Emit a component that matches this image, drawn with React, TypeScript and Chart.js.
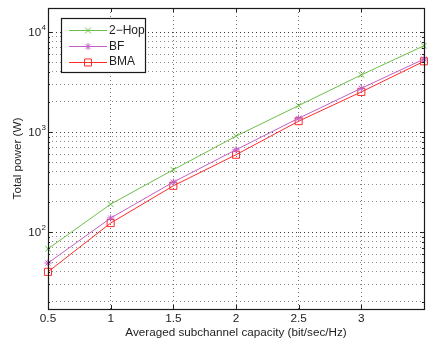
import React, { useEffect, useRef } from "react";
import { Chart, registerables } from "chart.js";

Chart.register(...registerables);

const capacities = [0.5, 1, 1.5, 2, 2.5, 3, 3.5];
const hop2Power = [68, 190, 420, 910, 1840, 3730, 7300];
const bfPower = [49, 138, 316, 665, 1375, 2740, 5370];
const bmaPower = [40, 123, 290, 593, 1285, 2520, 5100];
const xTickValues = [0.5, 1, 1.5, 2, 2.5, 3, 3.5];
const xTickLabels = ["0.5", "1", "1.5", "2", "2.5", "3", ""];
const yMajorExps = [2, 3, 4];
const seriesNames = ["2\u2212Hop", "BF", "BMA"];
const seriesColors = ["#6cbf48", "#c45ec4", "#ff2a2a"];

const FONT = "Liberation Sans, Arial, Helvetica, sans-serif";
const TEXT = "#1e1e1e";

function yTickValues(): number[] {
  const out: number[] = [];
  for (let e = 1; e <= 4; e++) {
    const base = Math.pow(10, e);
    for (let m = e === 1 ? 2 : 1; m <= 9; m++) {
      const v = m * base;
      if (v <= 17400) out.push(v);
    }
  }
  return out;
}

function isMajor(v: number) {
  const l = Math.log10(v);
  return Math.abs(l - Math.round(l)) < 1e-9;
}

function drawMarker(ctx: CanvasRenderingContext2D, style: string, x: number, y: number, color: string) {
  ctx.save();
  ctx.strokeStyle = color;
  ctx.lineWidth = 1;
  ctx.beginPath();
  if (style === "crossRot") {
    const r = 2.8;
    ctx.moveTo(x - r, y - r); ctx.lineTo(x + r, y + r);
    ctx.moveTo(x - r, y + r); ctx.lineTo(x + r, y - r);
  } else if (style === "star") {
    const r = 3.5;
    const d = r * Math.SQRT1_2;
    ctx.moveTo(x - r, y); ctx.lineTo(x + r, y);
    ctx.moveTo(x, y - r); ctx.lineTo(x, y + r);
    ctx.moveTo(x - d, y - d); ctx.lineTo(x + d, y + d);
    ctx.moveTo(x - d, y + d); ctx.lineTo(x + d, y - d);
  } else {
    const s = 3.5;
    ctx.rect(x - s, y - s, 2 * s, 2 * s);
  }
  ctx.stroke();
  ctx.restore();
}

const pointStyles = ["crossRot", "star", "rect"];

const decorPlugin = {
  id: "matlabDecor",
  afterDatasetsDraw(chart: any) {
    const ctx: CanvasRenderingContext2D = chart.ctx;
    const area = chart.chartArea;
    const xs = chart.scales.x;
    const ys = chart.scales.y;
    ctx.save();
    // inner tick marks
    ctx.strokeStyle = "#222";
    ctx.lineWidth = 1;
    ctx.beginPath();
    for (const v of xTickValues) {
      const px = Math.round(xs.getPixelForValue(v)) + 0.5;
      ctx.moveTo(px, area.top); ctx.lineTo(px, area.top + 4);
      ctx.moveTo(px, area.bottom); ctx.lineTo(px, area.bottom - 4);
    }
    for (const v of yTickValues()) {
      const py = Math.round(ys.getPixelForValue(v)) + 0.5;
      const len = isMajor(v) ? 4 : 2;
      ctx.moveTo(area.left, py); ctx.lineTo(area.left + len, py);
      ctx.moveTo(area.right, py); ctx.lineTo(area.right - len, py);
    }
    ctx.stroke();
    // box
    ctx.strokeStyle = "#1a1a1a";
    ctx.lineWidth = 1.2;
    ctx.strokeRect(Math.round(area.left) + 0.5, Math.round(area.top) + 0.5,
      Math.round(area.right - area.left), Math.round(area.bottom - area.top));
    // y labels 10^n
    ctx.fillStyle = TEXT;
    for (const e of yMajorExps) {
      const py = ys.getPixelForValue(Math.pow(10, e));
      ctx.font = `8px ${FONT}`;
      const sup = String(e);
      const supW = ctx.measureText(sup).width;
      const right = area.left - 2;
      ctx.textAlign = "left";
      ctx.textBaseline = "alphabetic";
      ctx.fillText(sup, right - supW, py - 2);
      ctx.font = `11.5px ${FONT}`;
      ctx.textAlign = "right";
      ctx.textBaseline = "middle";
      ctx.fillText("10", right - supW - 0.5, py + 0.5);
    }
    // legend
    const lx = 61, ly = 18, lw = 84, lh = 54;
    ctx.fillStyle = "#fff";
    ctx.fillRect(lx, ly, lw, lh);
    ctx.strokeStyle = "#1a1a1a";
    ctx.lineWidth = 1.2;
    ctx.strokeRect(lx + 0.5, ly + 0.5, lw, lh);
    const rows = [30, 45.7, 61.5];
    seriesNames.forEach((name, i) => {
      const y = rows[i];
      ctx.strokeStyle = seriesColors[i];
      ctx.lineWidth = 1;
      ctx.beginPath();
      ctx.moveTo(69, Math.round(y) + 0.5);
      ctx.lineTo(107, Math.round(y) + 0.5);
      ctx.stroke();
      drawMarker(ctx, pointStyles[i], 88, Math.round(y) + 0.5, seriesColors[i]);
      ctx.fillStyle = TEXT;
      ctx.font = `12px ${FONT}`;
      ctx.textAlign = "left";
      ctx.textBaseline = "middle";
      ctx.fillText(name, 109, y + 0.5);
    });
    ctx.restore();
  },
};

export default function App() {
  const ref = useRef<HTMLCanvasElement | null>(null);
  useEffect(() => {
    if (!ref.current) return;
    const mk = (vals: number[]) => capacities.map((x, i) => ({ x, y: vals[i] }));
    const chart = new Chart(ref.current, {
      type: "line",
      data: {
        datasets: [hop2Power, bfPower, bmaPower].map((vals, i) => ({
          label: seriesNames[i],
          data: mk(vals),
          borderColor: seriesColors[i],
          backgroundColor: "transparent",
          borderWidth: 1,
          pointStyle: pointStyles[i] as any,
          pointRadius: i === 0 ? 4 : i === 1 ? 3.6 : 5,
          pointBorderWidth: 1,
          pointBorderColor: seriesColors[i],
          pointBackgroundColor: "transparent",
          tension: 0,
          clip: false as any,
        })),
      },
      options: {
        responsive: false,
        animation: false,
        devicePixelRatio: 1,
        layout: { padding: { top: 8, bottom: 0, left: 0, right: 1 } },
        plugins: { legend: { display: false }, tooltip: { enabled: false } },
        scales: {
          x: {
            type: "linear",
            min: 0.5,
            max: 3.5,
            afterBuildTicks: (s: any) => { s.ticks = xTickValues.map((v) => ({ value: v })); },
            afterFit: (s: any) => { s.height = 31; },
            ticks: {
              padding: 3,
              color: TEXT,
              font: { family: FONT, size: 11.8 },
              maxRotation: 0,
              autoSkip: false,
              callback: (v: any) => {
                const i = xTickValues.indexOf(Number(v));
                return i >= 0 ? xTickLabels[i] : "";
              },
            },
            grid: {
              drawTicks: false,
              color: "#707070",
              lineWidth: 1,
            },
            border: { display: false, dash: [1, 3] },
            title: {
              display: true,
              text: "Averaged subchannel capacity (bit/sec/Hz)",
              color: TEXT,
              font: { family: FONT, size: 11.7 },
              padding: { top: 0, bottom: 0 },
            },
          },
          y: {
            type: "logarithmic",
            min: 17,
            max: 17400,
            bounds: "data",
            afterBuildTicks: (s: any) => { s.ticks = yTickValues().map((v) => ({ value: v })); },
            afterFit: (s: any) => { s.width = 48; },
            ticks: { display: false },
            grid: {
              drawTicks: false,
              color: (c: any) => (c.tick && isMajor(c.tick.value) ? "#3a3a3a" : "#8a8a8a"),
              lineWidth: 1,
            },
            border: { display: false, dash: [1, 3] },
            title: {
              display: true,
              text: "Total power (W)",
              color: TEXT,
              font: { family: FONT, size: 11.7 },
              padding: { top: 11, bottom: 0 },
            },
          },
        },
      },
      plugins: [decorPlugin],
    });
    return () => chart.destroy();
  }, []);
  return (
    <div style={{ position: "fixed", left: 0, top: 0, width: 430, height: 340, background: "#fff" }}>
      <canvas ref={ref} width={430} height={340} style={{ width: 430, height: 340, display: "block" }} />
    </div>
  );
}
